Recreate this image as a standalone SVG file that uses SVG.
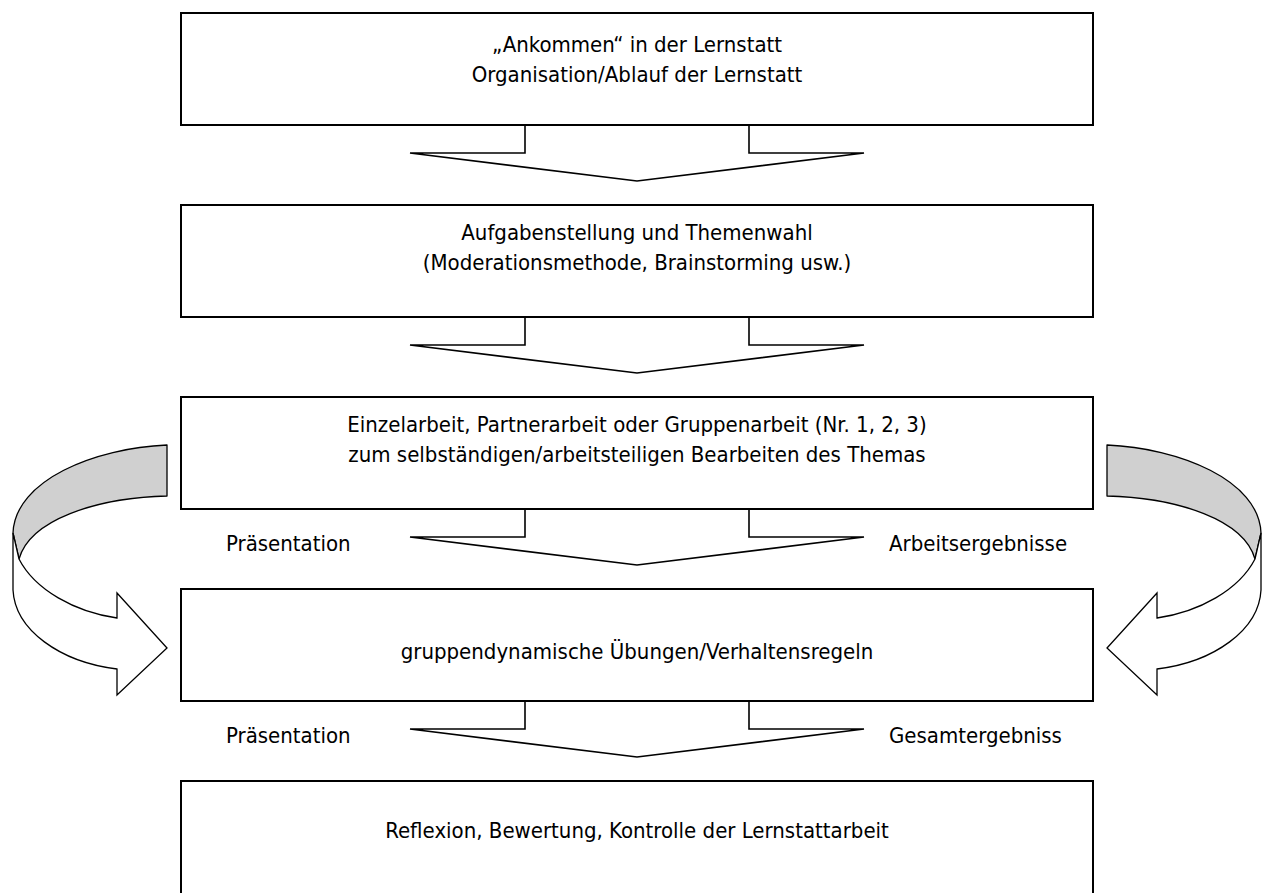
<svg xmlns="http://www.w3.org/2000/svg" width="1265" height="893" viewBox="0 0 1265 893">
  <style>
    .box { fill: #ffffff; stroke: #000000; stroke-width: 2; }
    .flow { fill: #ffffff; stroke: #000000; stroke-width: 1.6; stroke-linejoin: miter; }
    .band { fill: #d0d0d0; stroke: #000000; stroke-width: 1.3; stroke-linejoin: round; }
    .face { fill: #ffffff; stroke: #000000; stroke-width: 1.3; stroke-linejoin: miter; }
    text { font-family: "DejaVu Sans Condensed", "DejaVu Sans", sans-serif; font-size: 22px; fill: #000000; }
    .c { text-anchor: middle; }
  </style>
  <defs>
    <!-- ribbon-style curved arrow: grey back face on top, white front face ending in a head -->
    <g id="loopArrow">
      <path class="band" d="M167,445 C95,448 15,480 13,533 L19,559 C30,520 95,498 167,496 Z"/>
      <path class="face" d="M13,533 L13,590 C15,630 60,662 117,669 L117,695 L167,648 L117,593 L117,618 C75,612 35,590 19,559 Z"/>
    </g>
  </defs>

  <!-- feedback loops on both sides -->
  <g id="loop-left">
    <use href="#loopArrow"/>
  </g>
  <g id="loop-right">
    <use href="#loopArrow" transform="translate(1274,0) scale(-1,1)"/>
  </g>

  <!-- block arrows between the steps -->
  <g id="connectors">
    <polyline class="flow" points="525,125 525,153 410,153 637,181 864,153 749,153 749,125"/>
    <polyline class="flow" points="525,317 525,345 410,345 637,373 864,345 749,345 749,317"/>
    <polyline class="flow" points="525,509 525,537 410,537 637,565 864,537 749,537 749,509"/>
    <polyline class="flow" points="525,701 525,729 410,729 637,757 864,729 749,729 749,701"/>
  </g>

  <g id="step1">
    <rect class="box" x="181" y="13" width="912" height="112"/>
    <text class="c" x="637" y="52">„Ankommen“ in der Lernstatt</text>
    <text class="c" x="637" y="82">Organisation/Ablauf der Lernstatt</text>
  </g>

  <g id="step2">
    <rect class="box" x="181" y="205" width="912" height="112"/>
    <text class="c" x="637" y="240">Aufgabenstellung und Themenwahl</text>
    <text class="c" x="637" y="270">(Moderationsmethode, Brainstorming usw.)</text>
  </g>

  <g id="step3">
    <rect class="box" x="181" y="397" width="912" height="112"/>
    <text class="c" x="637" y="432">Einzelarbeit, Partnerarbeit oder Gruppenarbeit (Nr. 1, 2, 3)</text>
    <text class="c" x="637" y="462">zum selbständigen/arbeitsteiligen Bearbeiten des Themas</text>
  </g>

  <g id="labels-3">
    <text x="226" y="551">Präsentation</text>
    <text x="889" y="551">Arbeitsergebnisse</text>
  </g>

  <g id="step4">
    <rect class="box" x="181" y="589" width="912" height="112"/>
    <text class="c" x="637" y="659">gruppendynamische Übungen/Verhaltensregeln</text>
  </g>

  <g id="labels-4">
    <text x="226" y="743">Präsentation</text>
    <text x="889" y="743">Gesamtergebniss</text>
  </g>

  <g id="step5">
    <rect class="box" x="181" y="781" width="912" height="130"/>
    <text class="c" x="637" y="838">Reflexion, Bewertung, Kontrolle der Lernstattarbeit</text>
  </g>
</svg>
